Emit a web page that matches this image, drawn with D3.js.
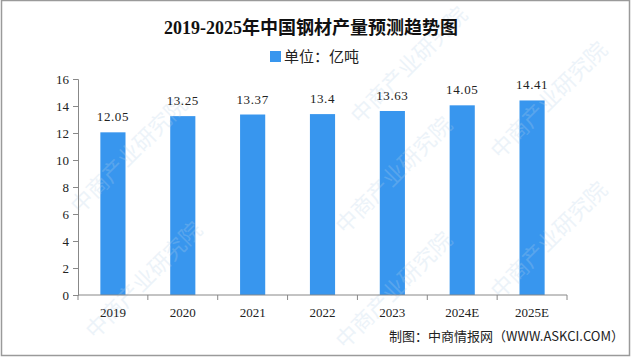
<!DOCTYPE html>
<html>
<head>
<meta charset="utf-8">
<script src="https://cdn.jsdelivr.net/npm/d3@7"></script>
<style>
  body { margin: 0; background: #fff; }
  svg { display: block; }
</style>
</head>
<body>
<div id="chart"></div>
<script>
// data
var years = ["2019", "2020", "2021", "2022", "2023", "2024E", "2025E"];
var output = [12.05, 13.25, 13.37, 13.4, 13.63, 14.05, 14.41];
var valueLabels = ["12.05", "13.25", "13.37", "13.4", "13.63", "14.05", "14.41"];
var yTicks = [0, 2, 4, 6, 8, 10, 12, 14, 16];

var W = 640, H = 358;
var plotLeft = 78, plotRight = 567, plotTop = 79, plotBottom = 295;
var cjk = "'Liberation Serif', 'Noto Sans CJK SC', serif";

var svg = d3.select("#chart").append("svg").attr("width", W).attr("height", H);

// frame
svg.append("rect").attr("x", 1.5).attr("y", 0.5).attr("width", 628).attr("height", 355)
  .attr("fill", "#fff").attr("stroke", "#9a9a9a").attr("stroke-width", 1.5);

var x = d3.scaleBand().domain(years).range([plotLeft, plotRight]).paddingInner(0.64).paddingOuter(0.32);
var y = d3.scaleLinear().domain([0, 16]).range([plotBottom, plotTop]);

// bars
svg.selectAll(".bar").data(output).enter().append("rect")
  .attr("x", function(d, i){ return x(years[i]); })
  .attr("y", function(d){ return y(d); })
  .attr("width", x.bandwidth())
  .attr("height", function(d){ return plotBottom - y(d); })
  .attr("fill", "#3896ee");

// watermarks (over the bars, faint)
var marks = [[80, 215], [360, 125], [95, 340], [345, 235], [500, 160], [345, 350], [500, 300]];
marks.forEach(function(m){
  svg.append("text").attr("transform", "translate(" + m[0] + "," + m[1] + ") rotate(-45)")
    .attr("font-family", "'Noto Sans CJK SC', sans-serif").attr("font-size", 22)
    .attr("fill", "#b8d2ea").attr("opacity", 0.25).text("中商产业研究院");
});

// value labels
svg.selectAll(".val").data(output).enter().append("text")
  .attr("x", function(d, i){ return x(years[i]) + x.bandwidth() / 2; })
  .attr("y", function(d){ return y(d) - 11; })
  .attr("text-anchor", "middle").attr("font-family", cjk).attr("font-size", 13)
  .attr("letter-spacing", 0.6)
  .attr("fill", "#222").text(function(d, i){ return valueLabels[i]; });

// axes
var axisY = d3.axisLeft(y).tickValues(yTicks).tickSize(5).tickPadding(4);
var gy = svg.append("g").attr("transform", "translate(" + plotLeft + ",0)").call(axisY);
gy.select(".domain").attr("stroke", "#888");
gy.selectAll(".tick line").attr("stroke", "#888");
gy.selectAll(".tick text").attr("font-family", cjk).attr("font-size", 13).attr("fill", "#222");

var xPos = d3.scaleLinear().domain([0, years.length]).range([plotLeft, plotRight]);
var gx = svg.append("g").attr("transform", "translate(0," + plotBottom + ")");
gx.append("line").attr("x1", plotLeft).attr("x2", plotRight).attr("stroke", "#888");
gx.selectAll(".xt").data(d3.range(years.length + 1)).enter().append("line")
  .attr("x1", function(d){ return xPos(d); }).attr("x2", function(d){ return xPos(d); })
  .attr("y1", 0).attr("y2", 5).attr("stroke", "#888");
gx.selectAll(".xl").data(years).enter().append("text")
  .attr("x", function(d){ return x(d) + x.bandwidth() / 2; })
  .attr("y", 22).attr("text-anchor", "middle")
  .attr("font-family", cjk).attr("font-size", 13).attr("fill", "#222").text(function(d){ return d; });

// title
svg.append("text").attr("x", 311).attr("y", 34).attr("text-anchor", "middle")
  .attr("font-family", cjk).attr("font-weight", "bold").attr("font-size", 18)
  .attr("fill", "#111").text("2019-2025年中国钢材产量预测趋势图");

// legend
svg.append("rect").attr("x", 270).attr("y", 51).attr("width", 11).attr("height", 11).attr("fill", "#3896ee");
svg.append("text").attr("x", 284).attr("y", 62).attr("font-family", cjk).attr("font-size", 15)
  .attr("fill", "#222").text("单位：亿吨");

// source
svg.append("text").attr("x", 624).attr("y", 341).attr("text-anchor", "end")
  .attr("font-family", "'Noto Sans CJK SC', sans-serif").attr("font-size", 13)
  .attr("fill", "#222").text("制图：中商情报网（WWW.ASKCI.COM）");
</script>
</body>
</html>
